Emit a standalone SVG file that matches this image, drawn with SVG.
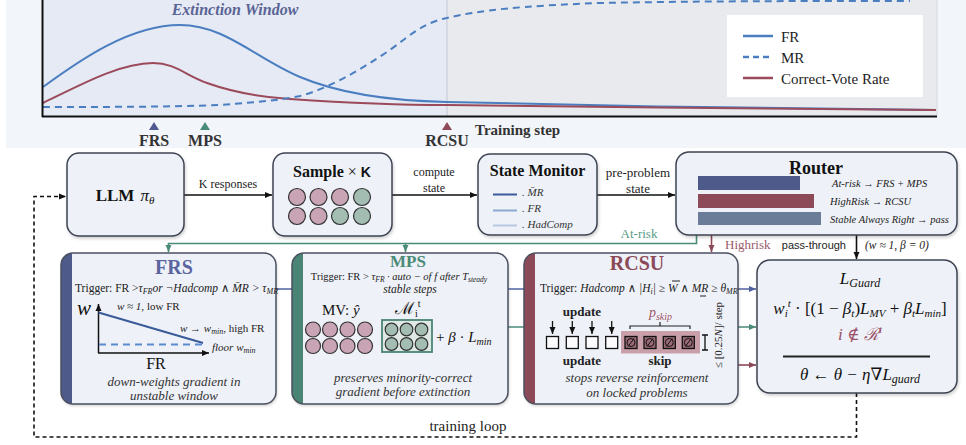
<svg xmlns="http://www.w3.org/2000/svg" width="966" height="445" viewBox="0 0 966 445">
<style>
.serif{font-family:"Liberation Serif","DejaVu Serif",serif}
.sans{font-family:"Liberation Sans","DejaVu Sans",sans-serif}
.it{font-style:italic}
.b{font-weight:bold}
.box{fill:#eef1f7;stroke:#3d4352;stroke-width:1.5}
.panel{fill:none;stroke:#4a5060;stroke-width:1.5}
.lbl{font-size:12px;fill:#222}
.desc{font-size:13px;font-style:italic;fill:#333;text-anchor:middle}
.trig{font-size:11.5px;fill:#222}
.pink{fill:#c9a4b4;stroke:#333;stroke-width:1.2}
.green{fill:#a3bdb3;stroke:#333;stroke-width:1.2}
</style>
<defs>
<marker id="ab" markerWidth="8" markerHeight="8" refX="7" refY="4" orient="auto" markerUnits="userSpaceOnUse"><path d="M0,1 L7,4 L0,7 Z" fill="#111"/></marker>
<marker id="ag" markerWidth="8" markerHeight="8" refX="7" refY="4" orient="auto" markerUnits="userSpaceOnUse"><path d="M0,1 L7,4 L0,7 Z" fill="#4a8a78"/></marker>
<marker id="ar" markerWidth="8" markerHeight="8" refX="7" refY="4" orient="auto" markerUnits="userSpaceOnUse"><path d="M0,1 L7,4 L0,7 Z" fill="#8c4a58"/></marker>
<marker id="abl" markerWidth="8" markerHeight="8" refX="7" refY="4" orient="auto" markerUnits="userSpaceOnUse"><path d="M0,1 L7,4 L0,7 Z" fill="#5060a0"/></marker>
<clipPath id="cFRS"><rect x="61" y="253" width="215" height="151" rx="12"/></clipPath>
<clipPath id="cMPS"><rect x="292" y="253" width="216" height="151" rx="12"/></clipPath>
<clipPath id="cRCSU"><rect x="524" y="253" width="214" height="151" rx="12"/></clipPath>
<filter id="sh" x="-5%" y="-5%" width="110%" height="115%"><feDropShadow dx="1" dy="2" stdDeviation="1.5" flood-color="#000" flood-opacity="0.18"/></filter>
</defs>

<rect x="0" y="0" width="966" height="445" fill="#ffffff"/>

<!-- Top chart -->
<g id="chart">
<rect x="6" y="0" width="960" height="148" fill="#f2f5fa"/>
<rect x="43" y="0" width="404" height="116" fill="#e5eaf5"/>
<rect x="447" y="0" width="490" height="116" fill="#e9eaee"/>
<line x1="447" y1="0" x2="447" y2="116" stroke="#c3c8d4" stroke-width="1"/>
<line x1="937" y1="0" x2="937" y2="116" stroke="#d5d8de" stroke-width="1"/>
<text x="235" y="15" class="serif it b" font-size="16" fill="#5a6494" text-anchor="middle">Extinction Window</text>
<path d="M43,87 C80,60 130,25 180,25 C225,25 255,58 300,77 C345,96 400,101 447,102 C600,106 800,109 936,110" fill="none" stroke="#4a7ec0" stroke-width="2"/>
<path d="M43,103 C80,85 120,63 153,63 C175,63 185,75 207,83 C235,93 260,97 290,99 C350,103 400,105 447,105 C600,107 800,109 936,110" fill="none" stroke="#9b4a5a" stroke-width="2"/>
<path d="M43,107 C100,107 170,107 220,105 C260,102 280,100 300,96 C330,88 360,70 390,50 C410,35 425,22 447,18 C480,10 520,6 600,3 C700,1 800,1 910,1" fill="none" stroke="#4a7ec0" stroke-width="2" stroke-dasharray="7 5"/>
<line x1="42.5" y1="0" x2="42.5" y2="117" stroke="#111" stroke-width="2"/>
<line x1="42" y1="116.5" x2="937" y2="116.5" stroke="#111" stroke-width="2"/>
<rect x="727" y="15" width="196" height="82" fill="#ffffff"/>
<line x1="743" y1="36" x2="773" y2="36" stroke="#4a7ec0" stroke-width="2.5"/>
<line x1="743" y1="57" x2="773" y2="57" stroke="#4a7ec0" stroke-width="2.5" stroke-dasharray="6 4"/>
<line x1="743" y1="78" x2="773" y2="78" stroke="#9b4a5a" stroke-width="2.5"/>
<text x="781" y="42" class="serif" font-size="15" fill="#222">FR</text>
<text x="781" y="63" class="serif" font-size="15" fill="#222">MR</text>
<text x="781" y="84" class="serif" font-size="15" fill="#222">Correct-Vote Rate</text>
<path d="M154,122 L159,130 L149,130 Z" fill="#505a90"/>
<path d="M205,122 L210,130 L200,130 Z" fill="#4a8a78"/>
<path d="M447,122 L452,130 L442,130 Z" fill="#8e4a58"/>
<text x="154" y="146" class="serif b" font-size="16" fill="#333" text-anchor="middle">FRS</text>
<text x="205" y="146" class="serif b" font-size="16" fill="#333" text-anchor="middle">MPS</text>
<text x="447" y="146" class="serif b" font-size="16" fill="#333" text-anchor="middle">RCSU</text>
<text x="475" y="135" class="serif b" font-size="15" fill="#333">Training step</text>
</g>

<!-- Connectors -->
<g id="connectors" fill="none">
<line x1="184" y1="195" x2="272" y2="195" stroke="#111" stroke-width="1.6" marker-end="url(#ab)"/>
<line x1="392" y1="195" x2="477" y2="195" stroke="#111" stroke-width="1.6" marker-end="url(#ab)"/>
<line x1="597" y1="195" x2="675" y2="195" stroke="#111" stroke-width="1.6" marker-end="url(#ab)"/>
<path d="M696.5,235 V243.5 H168.5 V252" stroke="#4a8a78" stroke-width="1.6" marker-end="url(#ag)"/>
<line x1="405.5" y1="243.5" x2="405.5" y2="252" stroke="#4a8a78" stroke-width="1.6" marker-end="url(#ag)"/>
<line x1="711.5" y1="235" x2="711.5" y2="252" stroke="#8c4a58" stroke-width="1.6" marker-end="url(#ar)"/>
<line x1="856.5" y1="235" x2="856.5" y2="259" stroke="#111" stroke-width="1.6" marker-end="url(#ab)"/>
<line x1="276" y1="289" x2="756" y2="289" stroke="#5060a0" stroke-width="1.6" marker-end="url(#abl)"/>
<line x1="508" y1="327" x2="756" y2="327" stroke="#4a8a78" stroke-width="1.6" marker-end="url(#ag)"/>
<line x1="738" y1="365" x2="756" y2="365" stroke="#8c4a58" stroke-width="1.6" marker-end="url(#ar)"/>
<path d="M856.5,393 V437 H34 V196.5 H66" stroke="#111" stroke-width="1.6" stroke-dasharray="4 3" marker-end="url(#ab)"/>
<text x="228" y="188" class="serif lbl" text-anchor="middle" stroke="none" fill="#222">K responses</text>
<text x="434" y="176" class="serif lbl" text-anchor="middle" stroke="none" fill="#222">compute</text>
<text x="434" y="192" class="serif lbl" text-anchor="middle" stroke="none" fill="#222">state</text>
<text x="638" y="177" class="serif" font-size="13" text-anchor="middle" stroke="none" fill="#222">pre-problem</text>
<text x="638" y="193" class="serif" font-size="13" text-anchor="middle" stroke="none" fill="#222">state</text>
<text x="639" y="238" class="serif" font-size="13" text-anchor="middle" stroke="none" fill="#5a9a88">At-risk</text>
<text x="725" y="249" class="serif" font-size="13" stroke="none" fill="#9a5a6a">Highrisk</text>
<text x="846" y="249" class="sans" font-size="11" text-anchor="end" stroke="none" fill="#222">pass-through</text>
<text x="865" y="249" class="serif it" font-size="11.5" stroke="none" fill="#222">(w ≈ 1, β = 0)</text>
<text x="468" y="431" class="serif" font-size="15" text-anchor="middle" stroke="none" fill="#222">training loop</text>
</g>

<!-- LLM -->
<g id="llm">
<rect x="67" y="153" width="117" height="83" rx="12" class="box" filter="url(#sh)"/>
<text x="125" y="201" class="serif" font-size="17" text-anchor="middle" fill="#111"><tspan font-weight="bold">LLM</tspan><tspan dx="6" font-style="italic">π</tspan><tspan font-style="italic" font-size="11" dy="3">θ</tspan></text>
</g>

<!-- Sample -->
<g id="sample">
<rect x="273" y="153" width="119" height="83" rx="12" class="box" filter="url(#sh)"/>
<text x="332" y="177" class="serif" font-size="16" text-anchor="middle" fill="#111"><tspan font-weight="bold">Sample</tspan> × <tspan class="sans" font-weight="bold" font-size="14">K</tspan></text>
<circle cx="297" cy="197" r="8.5" class="pink"/>
<circle cx="318.5" cy="197" r="8.5" class="pink"/>
<circle cx="340" cy="197" r="8.5" class="pink"/>
<circle cx="362" cy="197" r="8.5" class="green"/>
<circle cx="297" cy="216" r="8.5" class="pink"/>
<circle cx="318.5" cy="216" r="8.5" class="pink"/>
<circle cx="340" cy="216" r="8.5" class="green"/>
<circle cx="362" cy="216" r="8.5" class="green"/>
</g>

<!-- State Monitor -->
<g id="state-monitor">
<rect x="478" y="154" width="119" height="81" rx="12" class="box" filter="url(#sh)"/>
<text x="537.5" y="176" class="serif b" font-size="16" text-anchor="middle" fill="#111">State Monitor</text>
<line x1="493" y1="194.5" x2="517" y2="194.5" stroke="#3a5a9a" stroke-width="2"/>
<line x1="493" y1="210.5" x2="517" y2="210.5" stroke="#8aa8d0" stroke-width="2"/>
<line x1="493" y1="225.5" x2="517" y2="225.5" stroke="#b8c8de" stroke-width="2"/>
<text x="522" y="196" class="serif it" font-size="11" fill="#333">. M̄R</text>
<text x="522" y="212" class="serif it" font-size="11" fill="#333">. FR</text>
<text x="522" y="228" class="serif it" font-size="11" fill="#333">. HadComp</text>
</g>

<!-- Router -->
<g id="router">
<rect x="676" y="152" width="281" height="83" rx="13" class="box" filter="url(#sh)"/>
<text x="816" y="174" class="serif b" font-size="18" text-anchor="middle" fill="#111">Router</text>
<rect x="698" y="176" width="102" height="14" fill="#4e5a8a"/>
<rect x="698" y="194" width="116" height="14" fill="#8c4a58"/>
<rect x="698" y="212" width="123" height="13" fill="#6a7c98"/>
<text x="832" y="187" class="serif it" font-size="10.5" fill="#222">At-risk → FRS + MPS</text>
<text x="830" y="205" class="serif it" font-size="10.5" fill="#222">HighRisk → RCSU</text>
<text x="830" y="223" class="serif it" font-size="10.5" fill="#222">Stable Always Right → pass</text>
</g>

<!-- FRS -->
<g id="frs">
<rect x="61" y="253" width="215" height="151" rx="12" fill="#eef1f7" filter="url(#sh)"/>
<rect x="61" y="253" width="11" height="151" fill="#4e5a8a" clip-path="url(#cFRS)"/>
<rect x="61" y="253" width="215" height="151" rx="12" class="panel"/>
<text x="174" y="274" class="serif b" font-size="20" text-anchor="middle" fill="#5a65a0">FRS</text>
<text x="75" y="292" class="serif trig">Trigger: FR &gt;<tspan font-style="italic">τ</tspan><tspan font-style="italic" font-size="8" dy="2">FR</tspan><tspan font-style="italic" dy="-2">or ¬Hadcomp ∧ M̄R &gt; τ</tspan><tspan font-style="italic" font-size="8" dy="2">MR</tspan></text>
<line x1="98.5" y1="353" x2="98.5" y2="304" stroke="#111" stroke-width="1.5" marker-end="url(#ab)"/>
<line x1="98" y1="353" x2="209" y2="353" stroke="#111" stroke-width="1.5" marker-end="url(#ab)"/>
<text x="77" y="315" class="serif it" font-size="21" fill="#111">w</text>
<line x1="98.5" y1="312.5" x2="203" y2="343" stroke="#3a5a9a" stroke-width="2"/>
<line x1="99" y1="344.5" x2="203" y2="344.5" stroke="#5a8ad0" stroke-width="2.2" stroke-dasharray="7 5"/>
<text x="117" y="310" class="serif" font-size="11" fill="#222"><tspan font-style="italic">w ≈ 1,</tspan> low  FR</text>
<text x="180" y="332" class="serif" font-size="11" fill="#222"><tspan font-style="italic">w → w</tspan><tspan font-style="italic" font-size="8" dy="2">min</tspan><tspan dy="-2">, high  FR</tspan></text>
<text x="212" y="351" class="serif it" font-size="11" fill="#222">floor w<tspan font-size="8" dy="2">min</tspan></text>
<text x="156" y="369" class="serif" font-size="16" text-anchor="middle" fill="#111">FR</text>
<text x="174" y="386" class="serif desc">down-weights gradient in</text>
<text x="174" y="400" class="serif desc">unstable window</text>
</g>

<!-- MPS -->
<g id="mps">
<rect x="292" y="253" width="216" height="151" rx="12" fill="#eef1f7" filter="url(#sh)"/>
<rect x="292" y="253" width="11" height="151" fill="#4a8474" clip-path="url(#cMPS)"/>
<rect x="292" y="253" width="216" height="151" rx="12" class="panel"/>
<text x="408" y="267" class="serif b" font-size="17" text-anchor="middle" fill="#4a8a78">MPS</text>
<text x="399" y="280" class="serif" font-size="10.5" text-anchor="middle" fill="#222">Trigger: FR &gt; <tspan font-style="italic">τ</tspan><tspan font-style="italic" font-size="7.5" dy="2">FR</tspan><tspan font-style="italic" dy="-2"> · auto − of f  after T</tspan><tspan font-style="italic" font-size="7.5" dy="2">steady</tspan></text>
<text x="410" y="293" class="serif it" font-size="11.5" text-anchor="middle" fill="#222">stable steps</text>
<text x="322" y="315" class="serif" font-size="15" fill="#111">MV: <tspan font-style="italic">ŷ</tspan></text>
<text x="395" y="314" class="serif" font-size="17" fill="#111">ℳ<tspan font-size="10" dy="3">i</tspan><tspan font-size="10" dy="-10">t</tspan></text>
<circle cx="313" cy="329.5" r="7.5" class="pink"/>
<circle cx="330" cy="329.5" r="7.5" class="pink"/>
<circle cx="347.5" cy="329.5" r="7.5" class="pink"/>
<circle cx="365" cy="329.5" r="7.5" class="pink"/>
<circle cx="313" cy="346" r="7.5" class="pink"/>
<circle cx="330" cy="346" r="7.5" class="pink"/>
<circle cx="347.5" cy="346" r="7.5" class="pink"/>
<circle cx="365" cy="346" r="7.5" class="pink"/>
<rect x="382" y="320" width="50" height="32" fill="#dfe8e5" stroke="#4a8474" stroke-width="1.8"/>
<circle cx="391.5" cy="329.5" r="6.3" class="green"/>
<circle cx="406.5" cy="329.5" r="6.3" class="green"/>
<circle cx="421.5" cy="329.5" r="6.3" class="green"/>
<circle cx="391.5" cy="344" r="6.3" class="green"/>
<circle cx="406.5" cy="344" r="6.3" class="green"/>
<circle cx="421.5" cy="344" r="6.3" class="green"/>
<text x="436" y="342" class="serif" font-size="15" fill="#111">+ <tspan font-style="italic">β</tspan> · <tspan font-style="italic">L</tspan><tspan font-style="italic" font-size="10" dy="3">min</tspan></text>
<text x="403" y="382" class="serif desc">preserves minority-correct</text>
<text x="403" y="396" class="serif desc">gradient before extinction</text>
</g>

<!-- RCSU -->
<g id="rcsu">
<rect x="524" y="253" width="214" height="151" rx="12" fill="#eef1f7" filter="url(#sh)"/>
<rect x="524" y="253" width="11" height="151" fill="#8c4a58" clip-path="url(#cRCSU)"/>
<rect x="524" y="253" width="214" height="151" rx="12" class="panel"/>
<text x="637" y="270" class="serif b" font-size="20" text-anchor="middle" fill="#8c4a58">RCSU</text>
<text x="540" y="292" class="serif trig">Trigger: <tspan font-style="italic">Hadcomp  ∧ |H</tspan><tspan font-style="italic" font-size="8" dy="2">i</tspan><tspan font-style="italic" dy="-2">| ≥ W ∧ MR ≥ θ</tspan><tspan font-style="italic" font-size="8" dy="2">MR</tspan></text>
<line x1="672" y1="281" x2="680" y2="281" stroke="#222" stroke-width="1"/>
<line x1="700" y1="296" x2="706" y2="296" stroke="#222" stroke-width="1"/>
<text x="582" y="316" class="serif b" font-size="13" text-anchor="middle" fill="#222">update</text>
<text x="660.5" y="317" class="serif it" font-size="14" text-anchor="middle" fill="#a0586a">p<tspan font-size="10" dy="3">skip</tspan></text>
<g stroke="#111" stroke-width="1.3">
<line x1="552.5" y1="321" x2="552.5" y2="334" marker-end="url(#ab)"/>
<line x1="572.3" y1="321" x2="572.3" y2="334" marker-end="url(#ab)"/>
<line x1="592" y1="321" x2="592" y2="334" marker-end="url(#ab)"/>
<line x1="611.7" y1="321" x2="611.7" y2="334" marker-end="url(#ab)"/>
</g>
<g fill="#fbfbfd" stroke="#111" stroke-width="1.3">
<rect x="546.5" y="336.5" width="12" height="12"/>
<rect x="566.3" y="336.5" width="12" height="12"/>
<rect x="586" y="336.5" width="12" height="12"/>
<rect x="605.7" y="336.5" width="12" height="12"/>
</g>
<path d="M630,329 V326 H690 V329 M660,326 V322" fill="none" stroke="#222" stroke-width="1.2"/>
<rect x="621" y="331" width="79" height="22.5" fill="#c9a0aa"/>
<g fill="#9a6a76" stroke="#111" stroke-width="1.3">
<rect x="625" y="336.5" width="12" height="12"/>
<rect x="644" y="336.5" width="12" height="12"/>
<rect x="663.3" y="336.5" width="12" height="12"/>
<rect x="682.3" y="336.5" width="12" height="12"/>
</g>
<g fill="none" stroke="#111" stroke-width="1">
<circle cx="631" cy="342.5" r="4"/><line x1="628" y1="346.5" x2="634" y2="338.5"/>
<circle cx="650" cy="342.5" r="4"/><line x1="647" y1="346.5" x2="653" y2="338.5"/>
<circle cx="669.3" cy="342.5" r="4"/><line x1="666.3" y1="346.5" x2="672.3" y2="338.5"/>
<circle cx="688.3" cy="342.5" r="4"/><line x1="685.3" y1="346.5" x2="691.3" y2="338.5"/>
</g>
<path d="M702,335 H708 M705,335 V350 M702,350 H708" fill="none" stroke="#111" stroke-width="1.3"/>
<text transform="translate(722,335) rotate(-90)" class="serif" font-size="11" text-anchor="middle" fill="#222">≤ [0.25<tspan font-style="italic">N</tspan>]/ step</text>
<text x="582" y="365" class="serif b" font-size="13" text-anchor="middle" fill="#222">update</text>
<text x="660" y="365" class="serif b" font-size="13" text-anchor="middle" fill="#222">skip</text>
<text x="637" y="382" class="serif desc">stops reverse reinforcement</text>
<text x="637" y="397" class="serif desc">on locked problems</text>
</g>

<!-- L_Guard -->
<g id="lguard">
<rect x="757" y="260" width="200" height="133" rx="13" class="box" filter="url(#sh)"/>
<text x="860" y="284" class="serif it" font-size="17" text-anchor="middle" fill="#111">L<tspan font-size="12" dy="3">Guard</tspan></text>
<text x="860" y="314" class="serif" font-size="17" text-anchor="middle" fill="#111"><tspan font-style="italic">w</tspan><tspan font-style="italic" font-size="11" dy="3">i</tspan><tspan font-style="italic" font-size="11" dy="-10">t</tspan><tspan dy="7"> · [(1 − </tspan><tspan font-style="italic">β</tspan><tspan font-style="italic" font-size="11" dy="3">t</tspan><tspan dy="-3">)</tspan><tspan font-style="italic">L</tspan><tspan font-style="italic" font-size="11" dy="3">MV</tspan><tspan dy="-3"> + </tspan><tspan font-style="italic">β</tspan><tspan font-style="italic" font-size="11" dy="3">t</tspan><tspan font-style="italic" dy="-3">L</tspan><tspan font-style="italic" font-size="11" dy="3">min</tspan><tspan dy="-3">]</tspan></text>
<text x="860" y="340" class="serif it" font-size="17" text-anchor="middle" fill="#9a5068">i ∉ ℛ<tspan font-size="11" dy="-7">t</tspan></text>
<line x1="783" y1="356.5" x2="930" y2="356.5" stroke="#222" stroke-width="2"/>
<text x="860" y="380" class="serif it" font-size="17" text-anchor="middle" fill="#111">θ ← θ − η∇L<tspan font-size="12" dy="3">guard</tspan></text>
</g>
</svg>
